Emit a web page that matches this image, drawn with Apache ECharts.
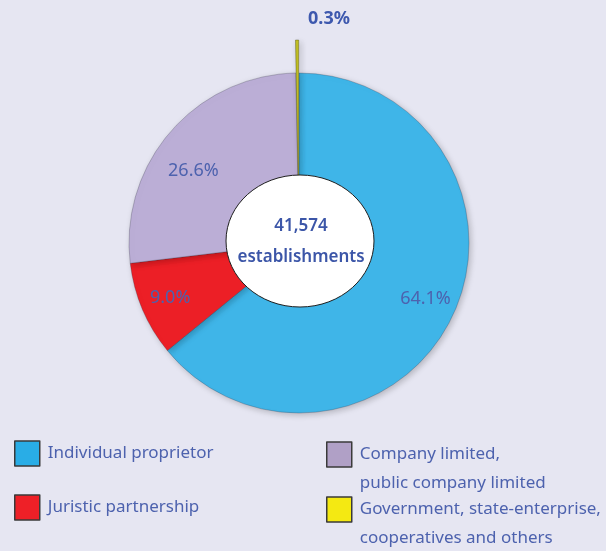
<!DOCTYPE html>
<html>
<head>
<meta charset="utf-8">
<script src="https://cdn.jsdelivr.net/npm/echarts@6/dist/echarts.min.js"></script>
<style>
  html, body { margin: 0; padding: 0; background: #e6e6f2; }
  #chart { width: 606px; height: 551px; }
</style>
</head>
<body>
<div id="chart"></div>
<script>
// Establishments by form of legal organization (share, %)
const categories = [
  'Individual proprietor',
  'Juristic partnership',
  'Company limited,\npublic company limited',
  'Government, state-enterprise,\ncooperatives and others'
];
const shares = [64.1, 9.0, 26.6, 0.3];
const sliceColors = ['#3fb5e8', '#ec1f26', '#bbaed6', '#c2c024'];
const legendColors = ['#29ade6', '#ee2027', '#b0a0c6', '#f4e912'];
const totalLabel = '41,574';
const totalUnit = 'establishments';

const textColor = '#4d62ae';
const fontFamily = '"Noto Sans", "Open Sans", sans-serif';
const CX = 299, CY = 243, R = 170;

const chart = echarts.init(document.getElementById('chart'), null, { renderer: 'canvas' });

const pieData = categories.map((name, i) => ({
  name: name,
  value: shares[i],
  selected: i === 3,
  itemStyle: { color: sliceColors[i] }
}));

// One legend block per category; two-line names get a leading blank line
// so the swatch lines up with their first line.
function legendAt(index, left, top) {
  const twoLines = categories[index].indexOf('\n') >= 0;
  return {
    show: true,
    left: left,
    top: top,
    orient: 'vertical',
    selectedMode: false,
    icon: 'rect',
    itemWidth: 25,
    itemHeight: 25,
    itemGap: 0,
    formatter: name => (twoLines ? '\n' : '') + name,
    data: [{
      name: categories[index],
      itemStyle: { color: legendColors[index], borderColor: '#3a3a3a', borderWidth: 1.5 }
    }],
    textStyle: {
      color: textColor,
      fontSize: 17,
      fontFamily: fontFamily,
      lineHeight: 29,
      padding: [0, 0, 0, 3]
    }
  };
}

const option = {
  backgroundColor: '#e6e6f2',
  animation: false,
  legend: [
    legendAt(0, 9, 434),
    legendAt(1, 9, 488),
    legendAt(2, 321, 406),
    legendAt(3, 321, 461)
  ],
  series: [
    {
      // the coloured wedges
      type: 'pie',
      center: [CX, CY],
      radius: [0, R],
      startAngle: 90,
      clockwise: true,
      selectedMode: 'multiple',
      selectedOffset: 33,
      emphasis: { disabled: true },
      select: { itemStyle: { borderColor: 'rgba(60,60,0,0.6)', borderWidth: 0.6 } },
      label: { show: false },
      labelLine: { show: false },
      itemStyle: {
        borderColor: 'rgba(40,40,60,0.25)',
        borderWidth: 1,
        shadowBlur: 6,
        shadowOffsetX: 2,
        shadowOffsetY: 2,
        shadowColor: 'rgba(0,0,0,0.22)'
      },
      data: pieData
    },
    {
      // percentage labels placed on a ring of the same wedges
      type: 'pie',
      center: [CX, CY],
      radius: [104, R],
      startAngle: 90,
      clockwise: true,
      silent: true,
      emphasis: { disabled: true },
      itemStyle: { color: 'rgba(0,0,0,0)' },
      labelLine: { show: false },
      label: {
        show: true,
        position: 'inside',
        formatter: p => p.value.toFixed(1) + '%',
        color: textColor,
        fontSize: 18,
        fontFamily: fontFamily
      },
      labelLayout: function (p) {
        if (p.dataIndex === 3) {
          return { x: 329, y: 19, align: 'center', verticalAlign: 'middle' };
        }
        if (p.dataIndex === 2) {
          return { dy: 20 };
        }
        if (p.dataIndex === 0) {
          return { dy: -4 };
        }
        return {};
      },
      data: categories.map((name, i) => ({
        name: name,
        value: shares[i],
        label: i === 3 ? { fontWeight: 'bold', color: '#3d58ae' } : {}
      }))
    }
  ],
  graphic: [
    {
      type: 'ellipse',
      shape: { cx: 300, cy: 241, rx: 74, ry: 66 },
      style: { fill: '#ffffff', stroke: '#1e1e1e', lineWidth: 1 },
      z: 100
    },
    {
      type: 'text',
      x: 301,
      y: 242,
      z: 101,
      style: {
        text: totalLabel + '\n' + totalUnit,
        align: 'center',
        verticalAlign: 'middle',
        fill: '#3c56a8',
        fontSize: 17,
        fontWeight: 600,
        lineHeight: 31,
        fontFamily: fontFamily
      }
    }
  ]
};

chart.setOption(option);
</script>
</body>
</html>
